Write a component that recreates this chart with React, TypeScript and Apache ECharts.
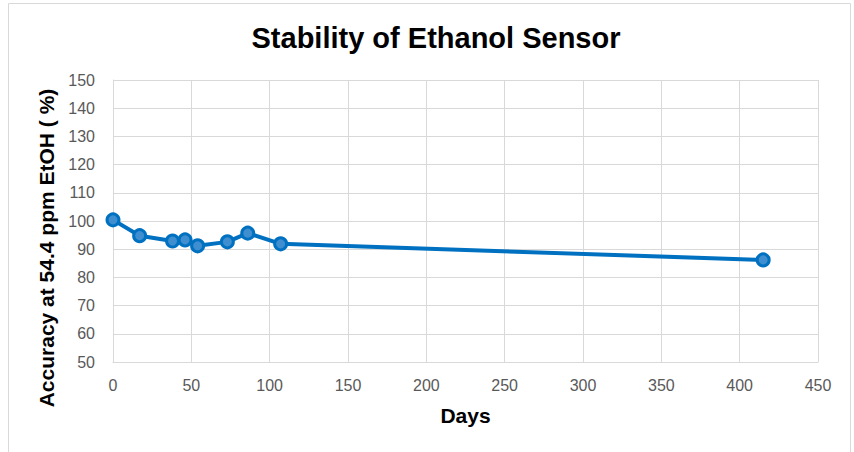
import React, { useEffect, useRef } from "react";
import * as echarts from "echarts";

const days = [0, 17, 38, 46, 54, 73, 86, 107, 415];
const accuracy = [100.4, 94.8, 92.9, 93.3, 91.2, 92.6, 95.7, 91.9, 86.2];
const titleText = "Stability of Ethanol Sensor";
const xName = "Days";
const yName = "Accuracy at 54.4 ppm EtOH ( %)";

export default function App() {
  const ref = useRef<HTMLDivElement>(null);
  useEffect(() => {
    const chart = echarts.init(ref.current!, null, { renderer: "svg" });
    chart.setOption({
      animation: false,
      backgroundColor: "#ffffff",
      title: {
        text: titleText,
        left: 431,
        textAlign: "center",
        top: 18,
        textStyle: { fontFamily: "Liberation Sans", fontSize: 29, fontWeight: "bold", color: "#000" },
      },
      grid: { left: 113, right: 36, top: 80, bottom: 90 },
      xAxis: {
        type: "value",
        min: 0,
        max: 450,
        interval: 50,
        name: xName,
        nameLocation: "middle",
        nameGap: 43,
        nameTextStyle: { fontFamily: "Liberation Sans", fontSize: 21, fontWeight: "bold", color: "#000" },
        axisLine: { show: true, lineStyle: { color: "#d9d9d9", width: 1 } },
        axisTick: { show: false },
        axisLabel: { color: "#595959", fontFamily: "Liberation Sans", fontSize: 16, margin: 15 },
        splitLine: { show: true, lineStyle: { color: "#d9d9d9", width: 1 } },
      },
      yAxis: {
        type: "value",
        min: 50,
        max: 150,
        interval: 10,
        name: yName,
        nameLocation: "middle",
        nameGap: 51,
        nameTextStyle: {
          fontFamily: "Liberation Sans",
          fontSize: 21,
          fontWeight: "bold",
          color: "#000",
          padding: [0, 54, 0, 0],
        },
        axisLine: { show: true, lineStyle: { color: "#d9d9d9", width: 1 } },
        axisTick: { show: false },
        axisLabel: { color: "#595959", fontFamily: "Liberation Sans", fontSize: 16, margin: 18 },
        splitLine: { show: true, lineStyle: { color: "#d9d9d9", width: 1 } },
      },
      series: [
        {
          type: "line",
          data: days.map((d, i) => [d, accuracy[i]]),
          lineStyle: { color: "#0070c0", width: 4 },
          symbol: "circle",
          symbolSize: 12,
          itemStyle: { color: "#3f8fd0", borderColor: "#0070c0", borderWidth: 3 },
        },
      ],
      graphic: [
        {
          type: "rect",
          shape: { x: 8.5, y: 3.5, width: 842, height: 452 },
          style: { fill: "none", stroke: "#d9d9d9", lineWidth: 1 },
          silent: true,
        },
      ],
    });
    return () => chart.dispose();
  }, []);
  return (
    <div style={{ position: "fixed", left: 0, top: 0, width: 854, height: 452 }}>
      <div ref={ref} style={{ width: 854, height: 452 }} />
    </div>
  );
}
